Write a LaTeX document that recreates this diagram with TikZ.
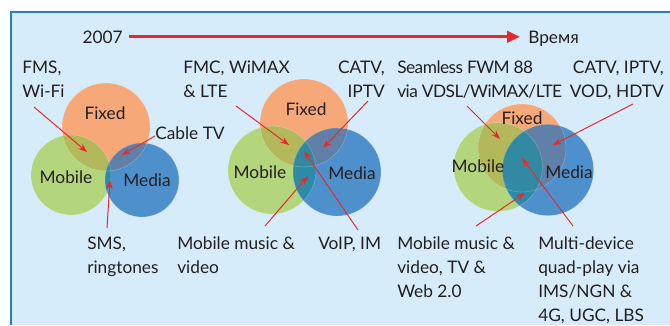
\documentclass[tikz,border=0pt]{standalone}
\usepackage{fontspec}
\setmainfont{Lato}
\usepackage{xcolor}
\usetikzlibrary{arrows.meta,positioning}

\definecolor{panelbg}{HTML}{D6ECFA}
\definecolor{panelline}{HTML}{2A7DC1}
\definecolor{fixedc}{HTML}{F6A878}
\definecolor{mobilec}{HTML}{B3D57C}
\definecolor{mediac}{HTML}{4E90CC}
\definecolor{fixmobc}{HTML}{B3B85A}
\definecolor{fixmedc}{HTML}{6180A8}
\definecolor{mobmedc}{HTML}{2E8BA8}
\definecolor{allc}{HTML}{318AA2}
\definecolor{arrowred}{HTML}{E52A2F}
\definecolor{txtc}{HTML}{231F20}

% three overlapping circles: centres #1 #2 #3, radii #4 #5 #6
\newcommand{\venn}[6]{%
  \fill[fixedc] (#1) circle (#4);
  \fill[mobilec] (#2) circle (#5);
  \fill[mediac] (#3) circle (#6);
  \begin{scope}\clip (#1) circle (#4); \fill[fixmobc] (#2) circle (#5);\end{scope}
  \begin{scope}\clip (#1) circle (#4); \fill[fixmedc] (#3) circle (#6);\end{scope}
  \begin{scope}\clip (#2) circle (#5); \fill[mobmedc] (#3) circle (#6);\end{scope}
  \begin{scope}\clip (#1) circle (#4); \clip (#2) circle (#5); \fill[allc] (#3) circle (#6);\end{scope}
  \draw[white,opacity=.3,line width=.3pt] (#1) circle (#4) (#2) circle (#5) (#3) circle (#6);
}

\begin{document}
\begin{tikzpicture}[x=0.25mm,y=-0.25mm,
  txt/.style={inner sep=0pt,text=txtc,font=\fontsize{12.3}{17}\selectfont},
  lbl/.style={txt,align=left,anchor=base west},
  rlbl/.style={txt,align=right,anchor=base east},
  set/.style={txt},
  note/.style={draw=arrowred,line width=0.7pt,-{Stealth[length=2.2mm,width=1.6mm]}},
  timeline/.style={draw=arrowred,line width=2.2pt,-{Triangle[length=3.2mm,width=2.8mm]}}]

\useasboundingbox (0,0) rectangle (670,325);
\fill[panelbg] (11,12) rectangle (670,325);
\draw[panelline,line width=1.2pt] (11,325) -- (11,12) -- (670,12);

% time axis
\node[txt,anchor=base east] (year) at (123,43) {2007};
\node[txt,anchor=base west] (time) at (528,43) {Время};
\draw[timeline,shorten <=1.5mm,shorten >=2mm] (year.east) -- (year.east -| time.west);

% 2007 (labels: base = last line)
\coordinate (fixA) at (106,127);
\coordinate (mobA) at (71,175);
\coordinate (medA) at (142,180);
\venn{fixA}{mobA}{medA}{11mm}{10mm}{9.25mm}
\node[set] (fixAl) at (105,113) {Fixed};
\node[set] (mobAl) at (66,177) {Mobile};
\node[set] (medAl) at (147,180) {Media};

\node[lbl] (fms) at (22,97) {FMS,\\Wi-Fi};
\node[lbl] (cable) at (155,139) {Cable TV};
\node[lbl] (sms) at (87,273) {SMS,\\ringtones};

\coordinate (fmsT) at (34,107);    \coordinate (fmsH) at (87,152);
\coordinate (cableT) at (155,136); \coordinate (cableH) at (122,155);
\coordinate (smsT) at (107,228);   \coordinate (smsH) at (110,180);
\draw[note] (fmsT) -- (fmsH);
\draw[note] (cableT) -- (cableH);
\draw[note] (smsT) -- (smsH);

% middle
\coordinate (fixB) at (304,123);
\coordinate (mobB) at (272,170);
\coordinate (medB) at (337,172);
\venn{fixB}{mobB}{medB}{11mm}{11mm}{11mm}
\node[set] (fixBl) at (306,109) {Fixed};
\node[set] (mobBl) at (260,172) {Mobile};
\node[set] (medBl) at (352,173) {Media};

\node[lbl] (fmc) at (183,97) {FMC, WiMAX\\\& LTE};
\node[rlbl] (catvB) at (385,97) {CATV,\\IPTV};
\node[lbl] (musicB) at (177,273) {Mobile music \&\\video};
\node[lbl] (voip) at (318,249) {VoIP, IM};

\coordinate (fmcT) at (236,106);    \coordinate (fmcH) at (289,145);
\coordinate (catvBT) at (368,101);  \coordinate (catvBH) at (323,148);
\coordinate (musicBT) at (265,226); \coordinate (musicBH) at (308,176);
\coordinate (voipT) at (358,230);   \coordinate (voipH) at (304,151);
\draw[note] (fmcT) -- (fmcH);
\draw[note] (catvBT) -- (catvBH);
\draw[note] (musicBT) -- (musicBH);
\draw[note] (voipT) -- (voipH);

% future
\coordinate (fixC) at (522,148);
\coordinate (mobC) at (498,167);
\coordinate (medC) at (548,170);
\venn{fixC}{mobC}{medC}{11mm}{11.1mm}{11.4mm}
\node[set] (fixCl) at (522,118) {Fixed};
\node[set] (mobCl) at (478,166) {Mobile};
\node[set] (medCl) at (569,172) {Media};

\node[lbl,font=\fontsize{12.3}{17}\selectfont\addfontfeatures{LetterSpace=-3}] (fwm) at (397,97) {Seamless FWM 88\\via VDSL/WiMAX/LTE};
\node[rlbl] (catvC) at (664,97) {CATV, IPTV,\\VOD, HDTV};
\node[lbl] (musicC) at (397,297) {Mobile music \&\\video, TV \&\\Web 2.0};
\node[lbl] (quad) at (538,321) {Multi-device\\quad-play via\\IMS/NGN \&\\4G, UGC, LBS};

\coordinate (fwmT) at (467,106);    \coordinate (fwmH) at (500,139);
\coordinate (catvCT) at (633,104);  \coordinate (catvCH) at (553,145);
\coordinate (musicCT) at (476,226); \coordinate (musicCH) at (525,193);
\coordinate (quadT) at (573,226);   \coordinate (quadH) at (522,158);
\draw[note] (fwmT) -- (fwmH);
\draw[note] (catvCT) -- (catvCH);
\draw[note] (musicCT) -- (musicCH);
\draw[note] (quadT) -- (quadH);

\end{tikzpicture}
\end{document}
